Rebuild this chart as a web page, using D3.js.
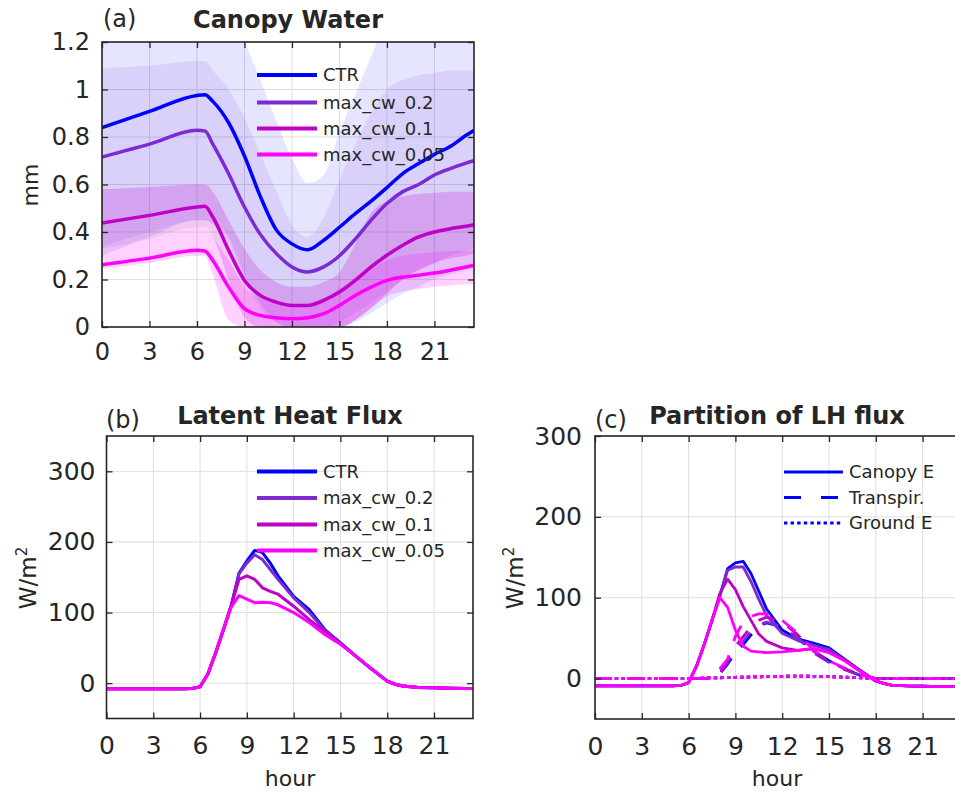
<!DOCTYPE html>
<html>
<head>
<meta charset="utf-8">
<script src="https://cdn.jsdelivr.net/npm/d3@7"></script>
<style>
body { margin: 0; background: #fff; }
text { font-family: "DejaVu Sans", sans-serif; fill: #262626; }
</style>
</head>
<body>
<div id="chart"></div>
<script>
// experiments and their colours
var expNames = ["CTR", "max_cw_0.2", "max_cw_0.1", "max_cw_0.05"];
var expColors = ["#0000ff", "#7d2ad3", "#c000c8", "#ff00ff"];
var bandOpacity = [0.1, 0.1, 0.22, 0.18];

var xTicks = [0, 3, 6, 9, 12, 15, 18, 21];
var yTicksA = [0, 0.2, 0.4, 0.6, 0.8, 1, 1.2];
var yTicksB = [0, 100, 200, 300];
var yTicksC = [0, 100, 200, 300];

// (a) canopy water, mm
var hoursA = [0, 3, 6, 6.5, 7, 8, 9, 10, 11, 12, 13, 14, 15, 16, 17, 18, 19, 20, 21, 22, 23, 23.5];
var cwCTR = [0.84, 0.908, 0.975, 0.978, 0.95, 0.86, 0.72, 0.55, 0.41, 0.35, 0.325, 0.365, 0.42, 0.477, 0.53, 0.587, 0.646, 0.688, 0.727, 0.76, 0.807, 0.828];
var cw02 = [0.716, 0.77, 0.828, 0.825, 0.77, 0.645, 0.505, 0.39, 0.31, 0.253, 0.232, 0.253, 0.30, 0.37, 0.45, 0.52, 0.57, 0.60, 0.64, 0.667, 0.69, 0.70];
var cw01 = [0.438, 0.47, 0.505, 0.508, 0.463, 0.323, 0.196, 0.133, 0.105, 0.091, 0.091, 0.112, 0.147, 0.196, 0.253, 0.302, 0.344, 0.379, 0.40, 0.414, 0.424, 0.431];
var cw005 = [0.262, 0.29, 0.323, 0.32, 0.28, 0.168, 0.077, 0.049, 0.039, 0.035, 0.039, 0.056, 0.091, 0.133, 0.168, 0.196, 0.21, 0.218, 0.227, 0.239, 0.253, 0.26];

// spread of each run (upper / lower edge of shading)
var hiCTR = [1.40, 1.42, 1.45, 1.45, 1.42, 1.32, 1.2, 1.04, 0.87, 0.71, 0.606, 0.64, 0.82, 0.98, 1.14, 1.3, 1.4, 1.45, 1.48, 1.5, 1.5, 1.5];
var loCTR = [0.30, 0.38, 0.45, 0.45, 0.44, 0.38, 0.22, 0.10, 0.02, 0, 0, 0, 0, 0.02, 0.06, 0.1, 0.14, 0.17, 0.2, 0.22, 0.24, 0.25];
var hi02 = [1.09, 1.10, 1.12, 1.12, 1.08, 1.0, 0.88, 0.73, 0.575, 0.43, 0.38, 0.46, 0.62, 0.77, 0.9, 1.0, 1.04, 1.06, 1.07, 1.08, 1.08, 1.08];
var lo02 = [0.34, 0.4, 0.45, 0.45, 0.43, 0.36, 0.2, 0.08, 0.02, 0, 0, 0, 0.02, 0.06, 0.1, 0.15, 0.2, 0.24, 0.27, 0.3, 0.32, 0.33];
var hi01 = [0.58, 0.59, 0.60, 0.60, 0.57, 0.45, 0.33, 0.24, 0.19, 0.17, 0.17, 0.19, 0.23, 0.35, 0.48, 0.53, 0.55, 0.56, 0.565, 0.57, 0.57, 0.57];
var lo01 = [0.33, 0.37, 0.42, 0.42, 0.38, 0.2, 0.04, 0, 0, 0, 0, 0, 0, 0.03, 0.08, 0.14, 0.2, 0.24, 0.27, 0.29, 0.30, 0.31];
var hi005 = [0.33, 0.37, 0.42, 0.42, 0.38, 0.28, 0.17, 0.12, 0.10, 0.09, 0.10, 0.12, 0.16, 0.21, 0.25, 0.28, 0.30, 0.31, 0.315, 0.32, 0.32, 0.32];
var lo005 = [0.245, 0.27, 0.3, 0.3, 0.22, 0.03, 0, 0, 0, 0, 0, 0, 0, 0.03, 0.08, 0.13, 0.15, 0.16, 0.17, 0.175, 0.18, 0.18];

// (b) and (c) share the same hours
var hoursBC = [0, 1, 2, 3, 4, 5, 5.5, 6, 6.5, 7, 7.5, 8, 8.5, 9, 9.5, 10, 10.5, 11, 12, 13, 14, 15, 16, 17, 18, 18.5, 19, 20, 21, 22, 23, 23.5];

// (b) latent heat flux, W/m2
var lhCTR = [-8, -8, -8, -8, -8, -8, -7.5, -5, 13, 43, 76, 110, 156, 173, 188, 185, 170, 152, 123, 104, 76, 57, 38, 20, 3, -1.5, -4, -6, -6.5, -7, -7.5, -7.5];
var lh02 = [-8, -8, -8, -8, -8, -8, -7.5, -5, 13, 43, 76, 110, 155, 170, 182, 175, 161, 147, 121, 100, 75, 57, 38, 20, 3, -1.5, -4, -6, -6.5, -7, -7.5, -7.5];
var lh01 = [-8, -8, -8, -8, -8, -8, -7.5, -5, 13, 43, 76, 110, 147, 152, 147, 135, 130, 126, 109, 90, 73, 56, 38, 20, 3, -1.5, -4, -6, -6.5, -7, -7.5, -7.5];
var lh005 = [-8, -8, -8, -8, -8, -8, -7.5, -5, 13, 43, 76, 108, 124, 119, 114, 114.5, 114, 111, 100, 86, 69, 55, 38, 20, 3, -1.5, -4, -6, -6.5, -7, -7.5, -7.5];

// (c) partition: canopy evaporation
var ceCTR = [-9, -9, -9, -9, -9, -9, -8.5, -5, 15, 42, 72, 102, 136, 143, 145, 130, 108, 86, 60, 49, 44, 38, 24, 10, -3, -6, -8, -9, -9.5, -10, -10, -10.5];
var ce02 = [-9, -9, -9, -9, -9, -9, -8.5, -5, 15, 42, 72, 102, 134, 138, 138, 120, 98, 78, 56, 47, 41, 36, 23, 10, -3, -6, -8, -9, -9.5, -10, -10, -10.5];
var ce01 = [-9, -9, -9, -9, -9, -9, -8.5, -5, 15, 42, 72, 105, 123, 110, 89, 72, 55, 46, 38, 35, 37, 33, 23, 9, -3, -6, -8, -9, -9.5, -10, -10, -10.5];
var ce005 = [-9, -9, -9, -9, -9, -9, -8.5, -5, 15, 42, 72, 100, 88, 60, 40, 34, 33, 32, 33, 35, 37, 32, 22, 9, -3, -6, -8, -9, -9.5, -10, -10, -10.5];
// transpiration
var trCTR = [0, 0, 0, 0, 0, 0, 0, 0, 0, 0, 1, 6, 18, 32, 42, 54, 64, 69, 64, 50, 34, 22, 12, 4, 0, 0, 0, 0, 0, 0, 0, 0];
var tr02 = [0, 0, 0, 0, 0, 0, 0, 0, 0, 0, 1, 6, 20, 36, 46, 58, 66, 70, 64, 50, 32, 20, 11, 4, 0, 0, 0, 0, 0, 0, 0, 0];
var tr01 = [0, 0, 0, 0, 0, 0, 0, 0, 0, 0, 1, 7, 22, 40, 52, 64, 72, 76, 70, 54, 34, 21, 12, 5, 0, 0, 0, 0, 0, 0, 0, 0];
var tr005 = [0, 0, 0, 0, 0, 0, 0, 0, 0, 0, 2, 12, 24, 52, 70, 77, 80, 80, 72, 56, 35, 22, 13, 5, 0, 0, 0, 0, 0, 0, 0, 0];
// ground evaporation (nearly the same in every run)
var groundE = [0, 0, 0, 0, 0, 0, 0, 0, 0.3, 0.6, 0.8, 1, 1.3, 1.6, 1.8, 2, 2.2, 2.4, 2.8, 3, 2.8, 2.4, 1.8, 1, 0.2, 0, 0, 0, 0, 0, 0, 0];

var partNames = ["Canopy E", "Transpir.", "Ground E"];
var partDash = ["none", "17,15", "3.4,3.2"];

var svg = d3.select('#chart')
    .append('svg')
    .attr('width', 955)
    .attr('height', 792);

svg.append('rect').attr('width', 955).attr('height', 792).attr('fill', '#fff');

function MakePanel(p) {
    var x = d3.scaleLinear().domain([0, 23.5]).range([p.left, p.right]);
    var y = d3.scaleLinear().domain(p.yDomain).range([p.bottom, p.top]);

    // grid first so the shading sits over it
    var grid = svg.append('g').attr('stroke', '#dedede').attr('stroke-width', 1);
    grid.selectAll('.gx').data(xTicks).enter().append('line')
        .attr('x1', function (d) { return x(d); })
        .attr('x2', function (d) { return x(d); })
        .attr('y1', p.top).attr('y2', p.bottom);
    grid.selectAll('.gy').data(p.yTicks).enter().append('line')
        .attr('y1', function (d) { return y(d); })
        .attr('y2', function (d) { return y(d); })
        .attr('x1', p.left).attr('x2', p.right);

    svg.append('clipPath').attr('id', p.id).append('rect')
        .attr('x', p.left).attr('y', p.top)
        .attr('width', p.right - p.left).attr('height', p.bottom - p.top);

    var plot = svg.append('g').attr('clip-path', 'url(#' + p.id + ')');
    return { x: x, y: y, plot: plot, p: p };
}

function FinishPanel(panel) {
    var p = panel.p, x = panel.x, y = panel.y;
    var fmt = function (d) { return String(d); };

    var axes = [];
    axes.push(svg.append('g').attr('transform', 'translate(0,' + p.bottom + ')')
        .call(d3.axisBottom(x).tickValues(xTicks).tickSize(-6).tickPadding(p.xPad).tickFormat(fmt)));
    axes.push(svg.append('g').attr('transform', 'translate(0,' + p.top + ')')
        .call(d3.axisTop(x).tickValues(xTicks).tickSize(-6).tickFormat('')));
    axes.push(svg.append('g').attr('transform', 'translate(' + p.left + ',0)')
        .call(d3.axisLeft(y).tickValues(p.yTicks).tickSize(-6).tickPadding(p.yPad).tickFormat(fmt)));
    axes.push(svg.append('g').attr('transform', 'translate(' + p.right + ',0)')
        .call(d3.axisRight(y).tickValues(p.yTicks).tickSize(-6).tickFormat('')));

    axes.forEach(function (a) {
        a.attr('font-size', p.fontSize)
            .attr('font-family', '"DejaVu Sans", sans-serif')
            .style('color', '#262626');
        a.select('.domain').remove();
        a.selectAll('.tick line').attr('stroke-width', 1.3);
    });

    svg.append('rect')
        .attr('x', p.left).attr('y', p.top)
        .attr('width', p.right - p.left).attr('height', p.bottom - p.top)
        .attr('fill', 'none')
        .attr('stroke', '#262626')
        .attr('stroke-width', 1.6);
}

function DrawLegend(names, colors, dashes, x0, x1, ys, lw) {
    var g = svg.append('g');
    names.forEach(function (name, i) {
        g.append('line')
            .attr('x1', x0).attr('x2', x1)
            .attr('y1', ys[i]).attr('y2', ys[i])
            .attr('stroke', colors[i])
            .attr('stroke-width', lw)
            .attr('stroke-dasharray', dashes[i]);
        g.append('text')
            .attr('x', x1 + 6)
            .attr('y', ys[i])
            .attr('dy', '0.36em')
            .attr('font-size', 18)
            .text(name);
    });
}

function Title(tag, title, tagX, tagY, cx, ty) {
    svg.append('text').attr('x', tagX).attr('y', tagY).attr('font-size', 24).text(tag);
    svg.append('text').attr('x', cx).attr('y', ty)
        .attr('text-anchor', 'middle')
        .attr('font-size', 24)
        .attr('font-weight', 'bold')
        .text(title);
}

// ---------- (a) Canopy Water ----------
var pa = MakePanel({ id: 'clipA', left: 102, right: 474, top: 42, bottom: 327,
    yDomain: [0, 1.2], yTicks: yTicksA, xPad: 16, yPad: 12, fontSize: 24 });

var cwMeans = [cwCTR, cw02, cw01, cw005];
var cwHi = [hiCTR, hi02, hi01, hi005];
var cwLo = [loCTR, lo02, lo01, lo005];

cwMeans.forEach(function (vals, k) {
    var area = d3.area()
        .x(function (d, i) { return pa.x(hoursA[i]); })
        .y0(function (d, i) { return pa.y(cwLo[k][i]); })
        .y1(function (d, i) { return pa.y(cwHi[k][i]); })
        .curve(d3.curveMonotoneX);
    pa.plot.append('path')
        .attr('d', area(vals))
        .attr('fill', expColors[k])
        .attr('fill-opacity', bandOpacity[k]);
});

cwMeans.forEach(function (vals, k) {
    var line = d3.line()
        .x(function (d, i) { return pa.x(hoursA[i]); })
        .y(function (d) { return pa.y(d); })
        .curve(d3.curveMonotoneX);
    pa.plot.append('path')
        .attr('d', line(vals))
        .attr('fill', 'none')
        .attr('stroke', expColors[k])
        .attr('stroke-width', 3.5);
});
FinishPanel(pa);
DrawLegend(expNames, expColors, ["none", "none", "none", "none"], 257, 317, [75, 102.5, 128.5, 154.5], 4);
Title('(a)', 'Canopy Water', 103, 27, 288, 28);
svg.append('text')
    .attr('transform', 'translate(38,185) rotate(-90)')
    .attr('text-anchor', 'middle')
    .attr('font-size', 22)
    .text('mm');

// ---------- (b) Latent Heat Flux ----------
var pb = MakePanel({ id: 'clipB', left: 106.5, right: 473, top: 436, bottom: 718.5,
    yDomain: [-50, 350], yTicks: yTicksB, xPad: 18, yPad: 11, fontSize: 25 });

[lhCTR, lh02, lh01, lh005].forEach(function (vals, k) {
    var line = d3.line()
        .x(function (d, i) { return pb.x(hoursBC[i]); })
        .y(function (d) { return pb.y(d); });
    pb.plot.append('path')
        .attr('d', line(vals))
        .attr('fill', 'none')
        .attr('stroke', expColors[k])
        .attr('stroke-width', 3)
        .attr('stroke-linejoin', 'round');
});
FinishPanel(pb);
DrawLegend(expNames, expColors, ["none", "none", "none", "none"], 257, 317, [471.5, 498, 524.5, 550.5], 4);
Title('(b)', 'Latent Heat Flux', 106, 428, 290, 424);

// ---------- (c) Partition of LH flux ----------
var pc = MakePanel({ id: 'clipC', left: 595, right: 961.6, top: 436, bottom: 719,
    yDomain: [-50, 300], yTicks: yTicksC, xPad: 18, yPad: 13, fontSize: 25 });

var partRuns = [[ceCTR, trCTR, groundE], [ce02, tr02, groundE], [ce01, tr01, groundE], [ce005, tr005, groundE]];
partRuns.forEach(function (run, k) {
    run.forEach(function (vals, j) {
        var line = d3.line()
            .x(function (d, i) { return pc.x(hoursBC[i]); })
            .y(function (d) { return pc.y(d); });
        pc.plot.append('path')
            .attr('d', line(vals))
            .attr('fill', 'none')
            .attr('stroke', expColors[k])
            .attr('stroke-width', 2.8)
            .attr('stroke-linejoin', 'round')
            .attr('stroke-dasharray', partDash[j]);
    });
});
FinishPanel(pc);
DrawLegend(partNames, [expColors[0], expColors[0], expColors[0]], ["none", "17,20", "3.4,3.2"], 784, 843, [472, 497.5, 523], 3);
Title('(c)', 'Partition of LH flux', 595, 428, 777, 424);

// y labels and x labels of the lower row
[36, 523].forEach(function (xp) {
    var t = svg.append('text')
        .attr('transform', 'translate(' + xp + ',578) rotate(-90)')
        .attr('text-anchor', 'middle')
        .attr('font-size', 23);
    t.append('tspan').text('W/m');
    t.append('tspan').attr('dy', -9).attr('font-size', 15).text('2');
});
[290, 777].forEach(function (xp) {
    svg.append('text')
        .attr('x', xp).attr('y', 786)
        .attr('text-anchor', 'middle')
        .attr('font-size', 22)
        .text('hour');
});
</script>
</body>
</html>
